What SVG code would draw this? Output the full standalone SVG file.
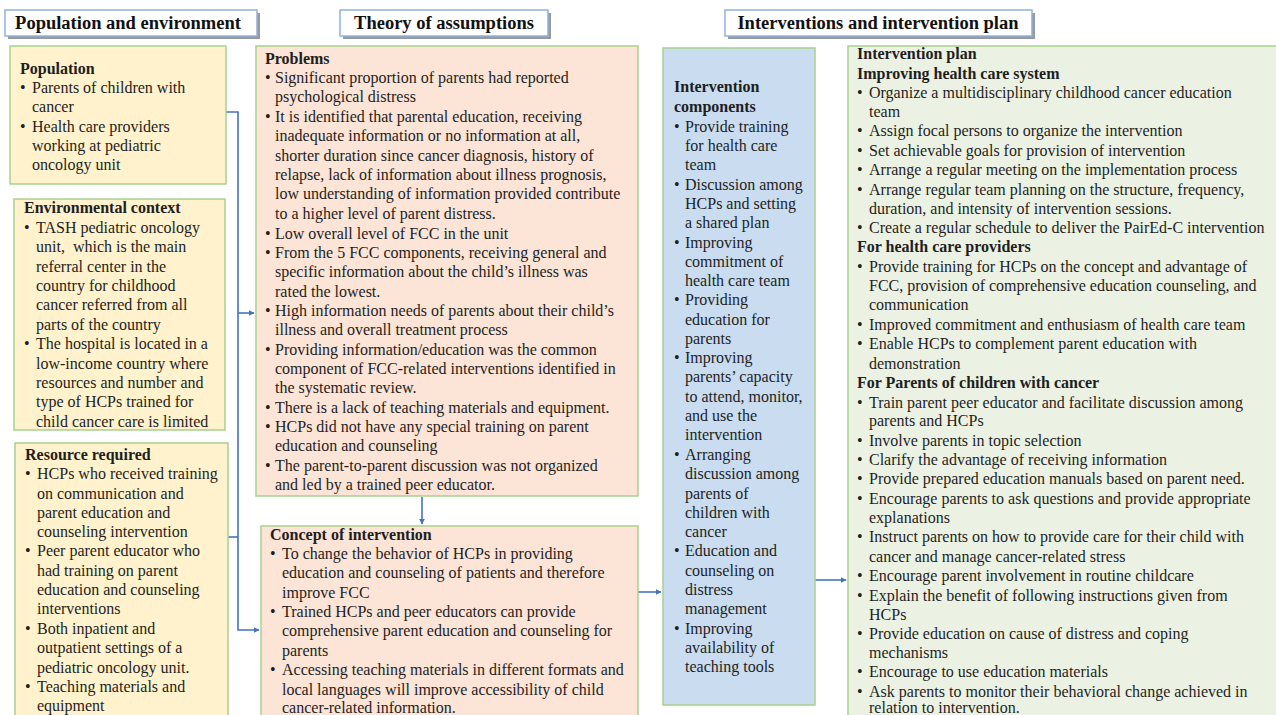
<svg xmlns="http://www.w3.org/2000/svg" width="1276" height="715" viewBox="0 0 1276 715">
<style>
text{font-family:"Liberation Serif","Times New Roman",serif;font-size:16px;fill:#1e1e1e}
.b{font-weight:bold}
.h{font-weight:bold;font-size:18.5px;fill:#111}
.hbox{fill:#fff;stroke:#8fb1dd;stroke-width:1.5}
.shadow{fill:#9a9a9a}
.yel{fill:#fff2cc;stroke:#a9d18e;stroke-width:1.5}
.sal{fill:#fce4d6;stroke:#a9d18e;stroke-width:1.5}
.blu{fill:#c9dcf0;stroke:#a9d18e;stroke-width:1.5}
.grn{fill:#ecf2e3;stroke:#a9d18e;stroke-width:1.5}
.c{fill:none;stroke:#4472c4;stroke-width:1.6}
</style>
<defs>
<marker id="ah" viewBox="0 0 10 10" refX="9" refY="5" markerWidth="6" markerHeight="6" orient="auto" markerUnits="userSpaceOnUse">
<path d="M0,0 L10,5 L0,10 z" fill="#4472c4"/>
</marker>
</defs>
<rect width="1276" height="715" fill="#fff"/>

<g id="header-population">
<rect class="shadow" x="8" y="13" width="252" height="26"/>
<rect class="hbox" x="5" y="10" width="252" height="26"/>
<text class="h" x="128" y="29" text-anchor="middle">Population and environment</text>
</g>
<g id="header-theory">
<rect class="shadow" x="343" y="13" width="208" height="26"/>
<rect class="hbox" x="340" y="10" width="208" height="26"/>
<text class="h" x="444" y="29" text-anchor="middle">Theory of assumptions</text>
</g>
<g id="header-interventions">
<rect class="shadow" x="728" y="13" width="307" height="26"/>
<rect class="hbox" x="725" y="10" width="307" height="26"/>
<text class="h" x="878" y="29" text-anchor="middle">Interventions and intervention plan</text>
</g>

<g id="connectors">
<path class="c" d="M226,112 H238 V630 H259" marker-end="url(#ah)"/>
<path class="c" d="M238,313 H254" marker-end="url(#ah)"/>
<path class="c" d="M228,537 H238"/>
<path class="c" d="M422,497 V524" marker-end="url(#ah)"/>
<path class="c" d="M638,592 H661" marker-end="url(#ah)"/>
<path class="c" d="M815,580 H846" marker-end="url(#ah)"/>
</g>

<g id="population">
<rect class="yel" x="10" y="46" width="216" height="138"/>
<text class="b" x="20" y="74">Population</text>
<text y="93"><tspan x="20">•</tspan><tspan x="32">Parents of children with</tspan></text>
<text x="32" y="112">cancer</text>
<text y="132"><tspan x="20">•</tspan><tspan x="32">Health care providers</tspan></text>
<text x="32" y="151">working at pediatric</text>
<text x="32" y="170">oncology unit</text>
</g>

<g id="environmental-context">
<rect class="yel" x="14" y="199" width="211" height="231"/>
<text class="b" x="24" y="213">Environmental context</text>
<text y="233"><tspan x="24">•</tspan><tspan x="36">TASH pediatric oncology</tspan></text>
<text x="36" y="252" xml:space="preserve">unit,  which is the main</text>
<text x="36" y="272">referral center in the</text>
<text x="36" y="291">country for childhood</text>
<text x="36" y="310">cancer referred from all</text>
<text x="36" y="330">parts of the country</text>
<text y="349"><tspan x="24">•</tspan><tspan x="36">The hospital is located in a</tspan></text>
<text x="36" y="369">low-income country where</text>
<text x="36" y="388">resources and number and</text>
<text x="36" y="407">type of HCPs trained for</text>
<text x="36" y="427">child cancer care is limited</text>
</g>

<g id="resource-required">
<rect class="yel" x="15" y="443" width="213" height="280"/>
<text class="b" x="25" y="460">Resource required</text>
<text y="479"><tspan x="25">•</tspan><tspan x="37">HCPs who received training</tspan></text>
<text x="37" y="499">on communication and</text>
<text x="37" y="518">parent education and</text>
<text x="37" y="537">counseling intervention</text>
<text y="556"><tspan x="25">•</tspan><tspan x="37">Peer parent educator who</tspan></text>
<text x="37" y="576">had training on parent</text>
<text x="37" y="595">education and counseling</text>
<text x="37" y="614">interventions</text>
<text y="634"><tspan x="25">•</tspan><tspan x="37">Both inpatient and</tspan></text>
<text x="37" y="653">outpatient settings of a</text>
<text x="37" y="673">pediatric oncology unit.</text>
<text y="692"><tspan x="25">•</tspan><tspan x="37">Teaching materials and</tspan></text>
<text x="37" y="711">equipment</text>
</g>

<g id="problems">
<rect class="sal" x="256" y="46" width="382" height="450"/>
<text class="b" x="265" y="64">Problems</text>
<text y="83"><tspan x="265">•</tspan><tspan x="275">Significant proportion of parents had reported</tspan></text>
<text x="275" y="102">psychological distress</text>
<text y="122"><tspan x="265">•</tspan><tspan x="275">It is identified that parental education, receiving</tspan></text>
<text x="275" y="141">inadequate information or no information at all,</text>
<text x="275" y="161">shorter duration since cancer diagnosis, history of</text>
<text x="275" y="180">relapse, lack of information about illness prognosis,</text>
<text x="275" y="199">low understanding of information provided contribute</text>
<text x="275" y="219">to a higher level of parent distress.</text>
<text y="239"><tspan x="265">•</tspan><tspan x="275">Low overall level of FCC in the unit</tspan></text>
<text y="258"><tspan x="265">•</tspan><tspan x="275">From the 5 FCC components, receiving general and</tspan></text>
<text x="275" y="277">specific information about the child’s illness was</text>
<text x="275" y="297">rated the lowest.</text>
<text y="316"><tspan x="265">•</tspan><tspan x="275">High information needs of parents about their child’s</tspan></text>
<text x="275" y="335">illness and overall treatment process</text>
<text y="355"><tspan x="265">•</tspan><tspan x="275">Providing information/education was the common</tspan></text>
<text x="275" y="374">component of FCC-related interventions identified in</text>
<text x="275" y="393">the systematic review.</text>
<text y="413"><tspan x="265">•</tspan><tspan x="275">There is a lack of teaching materials and equipment.</tspan></text>
<text y="432"><tspan x="265">•</tspan><tspan x="275">HCPs did not have any special training on parent</tspan></text>
<text x="275" y="451">education and counseling</text>
<text y="471"><tspan x="265">•</tspan><tspan x="275">The parent-to-parent discussion was not organized</tspan></text>
<text x="275" y="490">and led by a trained peer educator.</text>
</g>

<g id="concept-of-intervention">
<rect class="sal" x="261" y="526" width="377" height="200"/>
<text class="b" x="270" y="540">Concept of intervention</text>
<text y="559"><tspan x="270">•</tspan><tspan x="282">To change the behavior of HCPs in providing</tspan></text>
<text x="282" y="578">education and counseling of patients and therefore</text>
<text x="282" y="598">improve FCC</text>
<text y="617"><tspan x="270">•</tspan><tspan x="282">Trained HCPs and peer educators can provide</tspan></text>
<text x="282" y="636">comprehensive parent education and counseling for</text>
<text x="282" y="656">parents</text>
<text y="675"><tspan x="270">•</tspan><tspan x="282">Accessing teaching materials in different formats and</tspan></text>
<text x="282" y="695">local languages will improve accessibility of child</text>
<text x="282" y="713">cancer-related information.</text>
</g>

<g id="intervention-components">
<rect class="blu" x="663" y="48" width="152" height="657"/>
<text class="b" x="674" y="92">Intervention</text>
<text class="b" x="674" y="112">components</text>
<text y="132"><tspan x="674">•</tspan><tspan x="685">Provide training</tspan></text>
<text x="685" y="151">for health care</text>
<text x="685" y="170">team</text>
<text y="190"><tspan x="674">•</tspan><tspan x="685">Discussion among</tspan></text>
<text x="685" y="209">HCPs and setting</text>
<text x="685" y="228">a shared plan</text>
<text y="248"><tspan x="674">•</tspan><tspan x="685">Improving</tspan></text>
<text x="685" y="267">commitment of</text>
<text x="685" y="286">health care team</text>
<text y="305"><tspan x="674">•</tspan><tspan x="685">Providing</tspan></text>
<text x="685" y="325">education for</text>
<text x="685" y="344">parents</text>
<text y="363"><tspan x="674">•</tspan><tspan x="685">Improving</tspan></text>
<text x="685" y="382">parents’ capacity</text>
<text x="685" y="402">to attend, monitor,</text>
<text x="685" y="421">and use the</text>
<text x="685" y="440">intervention</text>
<text y="460"><tspan x="674">•</tspan><tspan x="685">Arranging</tspan></text>
<text x="685" y="479">discussion among</text>
<text x="685" y="499">parents of</text>
<text x="685" y="518">children with</text>
<text x="685" y="537">cancer</text>
<text y="556"><tspan x="674">•</tspan><tspan x="685">Education and</tspan></text>
<text x="685" y="576">counseling on</text>
<text x="685" y="595">distress</text>
<text x="685" y="614">management</text>
<text y="634"><tspan x="674">•</tspan><tspan x="685">Improving</tspan></text>
<text x="685" y="653">availability of</text>
<text x="685" y="672">teaching tools</text>
</g>

<g id="intervention-plan">
<rect class="grn" x="848" y="46" width="432" height="680"/>
<text class="b" x="857" y="59">Intervention plan</text>
<text class="b" x="857" y="79">Improving health care system</text>
<text y="98"><tspan x="857">•</tspan><tspan x="869">Organize a multidisciplinary childhood cancer education</tspan></text>
<text x="869" y="117">team</text>
<text y="136"><tspan x="857">•</tspan><tspan x="869">Assign focal persons to organize the intervention</tspan></text>
<text y="156"><tspan x="857">•</tspan><tspan x="869">Set achievable goals for provision of intervention</tspan></text>
<text y="175"><tspan x="857">•</tspan><tspan x="869">Arrange a regular meeting on the implementation process</tspan></text>
<text y="195"><tspan x="857">•</tspan><tspan x="869">Arrange regular team planning on the structure, frequency,</tspan></text>
<text x="869" y="214">duration, and intensity of intervention sessions.</text>
<text y="233"><tspan x="857">•</tspan><tspan x="869">Create a regular schedule to deliver the PairEd-C intervention</tspan></text>
<text class="b" x="857" y="252">For health care providers</text>
<text y="272"><tspan x="857">•</tspan><tspan x="869">Provide training for HCPs on the concept and advantage of</tspan></text>
<text x="869" y="291">FCC, provision of comprehensive education counseling, and</text>
<text x="869" y="310">communication</text>
<text y="330"><tspan x="857">•</tspan><tspan x="869">Improved commitment and enthusiasm of health care team</tspan></text>
<text y="349"><tspan x="857">•</tspan><tspan x="869">Enable HCPs to complement parent education with</tspan></text>
<text x="869" y="369">demonstration</text>
<text class="b" x="857" y="388">For Parents of children with cancer</text>
<text y="408"><tspan x="857">•</tspan><tspan x="869">Train parent peer educator and facilitate discussion among</tspan></text>
<text x="869" y="426">parents and HCPs</text>
<text y="446"><tspan x="857">•</tspan><tspan x="869">Involve parents in topic selection</tspan></text>
<text y="465"><tspan x="857">•</tspan><tspan x="869">Clarify the advantage of receiving information</tspan></text>
<text y="484"><tspan x="857">•</tspan><tspan x="869">Provide prepared education manuals based on parent need.</tspan></text>
<text y="504"><tspan x="857">•</tspan><tspan x="869">Encourage parents to ask questions and provide appropriate</tspan></text>
<text x="869" y="523">explanations</text>
<text y="542"><tspan x="857">•</tspan><tspan x="869">Instruct parents on how to provide care for their child with</tspan></text>
<text x="869" y="562">cancer and manage cancer-related stress</text>
<text y="581"><tspan x="857">•</tspan><tspan x="869">Encourage parent involvement in routine childcare</tspan></text>
<text y="601"><tspan x="857">•</tspan><tspan x="869">Explain the benefit of following instructions given from</tspan></text>
<text x="869" y="620">HCPs</text>
<text y="639"><tspan x="857">•</tspan><tspan x="869">Provide education on cause of distress and coping</tspan></text>
<text x="869" y="658">mechanisms</text>
<text y="677"><tspan x="857">•</tspan><tspan x="869">Encourage to use education materials</tspan></text>
<text y="697"><tspan x="857">•</tspan><tspan x="869">Ask parents to monitor their behavioral change achieved in</tspan></text>
<text x="869" y="713">relation to intervention.</text>
</g>
</svg>
